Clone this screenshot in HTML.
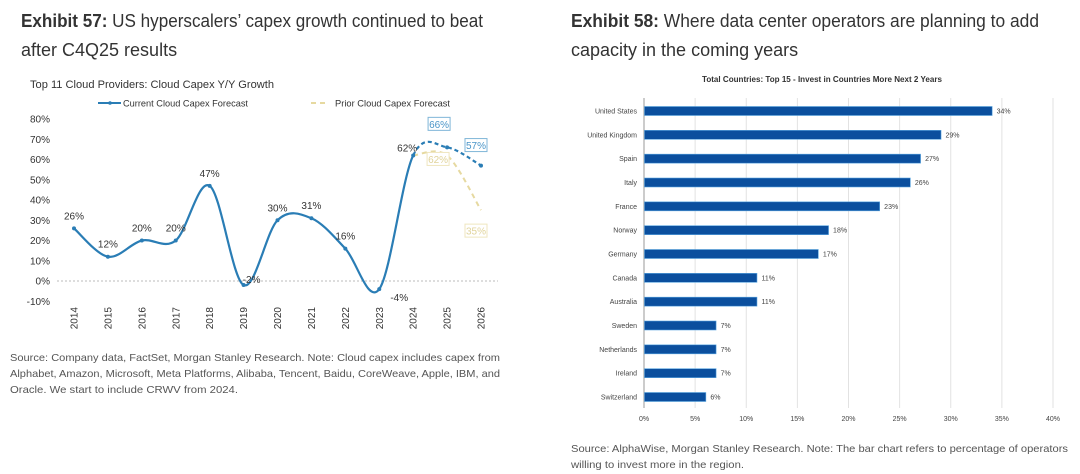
<!DOCTYPE html>
<html><head><meta charset="utf-8"><style>
html,body{margin:0;padding:0;background:#fff;}
svg{display:block;font-family:"Liberation Sans",sans-serif;}
</style></head><body>
<svg id="root" width="1080" height="474" viewBox="0 0 1080 474">
  <g fill="#333" font-size="18">
    <text x="21" y="27" textLength="462" lengthAdjust="spacingAndGlyphs"><tspan font-weight="bold">Exhibit 57:</tspan>  US hyperscalers’ capex growth continued to beat</text>
    <text x="21" y="56">after C4Q25 results</text>
  </g>
  <g fill="#333" font-size="18">
    <text x="571" y="27" textLength="468" lengthAdjust="spacingAndGlyphs"><tspan font-weight="bold">Exhibit 58:</tspan>  Where data center operators are planning to add</text>
    <text x="571" y="56">capacity in the coming years</text>
  </g>

  <g id="line-chart">
    <text x="30" y="88" font-size="11" fill="#333" textLength="244" lengthAdjust="spacingAndGlyphs">Top 11 Cloud Providers: Cloud Capex Y/Y Growth</text>
    <g>
      <line x1="98" y1="103" x2="121" y2="103" stroke="#2a7db5" stroke-width="2"/>
      <circle cx="110" cy="103" r="1.8" fill="#2a7db5"/>
      <text x="123" y="106.5" font-size="9.5" fill="#333" textLength="125" lengthAdjust="spacingAndGlyphs">Current Cloud Capex Forecast</text>
    </g>
    <g>
      <line x1="311" y1="103" x2="328" y2="103" stroke="#e6d9a0" stroke-width="2" stroke-dasharray="5,4"/>
      <text x="335" y="106.5" font-size="9.5" fill="#333" textLength="115" lengthAdjust="spacingAndGlyphs">Prior Cloud Capex Forecast</text>
    </g>
    <g id="lc-yaxis"></g>
    <g id="lc-xaxis"></g>
    <g id="lc-series"></g>
  </g>

  <g fill="#555" font-size="10.5">
    <text x="10" y="361" textLength="490" lengthAdjust="spacingAndGlyphs">Source: Company data, FactSet, Morgan Stanley Research. Note: Cloud capex includes capex from</text>
    <text x="10" y="377" textLength="490" lengthAdjust="spacingAndGlyphs">Alphabet, Amazon, Microsoft, Meta Platforms, Alibaba, Tencent, Baidu, CoreWeave, Apple, IBM, and</text>
    <text x="10" y="393" textLength="228" lengthAdjust="spacingAndGlyphs">Oracle. We start to include CRWV from 2024.</text>
  </g>

  <g id="bar-chart">
    <text x="822" y="82" font-size="8" font-weight="bold" fill="#333" text-anchor="middle" textLength="240" lengthAdjust="spacingAndGlyphs">Total Countries:  Top 15 - Invest in Countries More Next 2 Years</text>
    <g id="bc-grid"></g>
    <g id="bc-bars"></g>
  </g>

  <g fill="#555" font-size="10.5">
    <text x="571" y="452" textLength="497" lengthAdjust="spacingAndGlyphs">Source: AlphaWise, Morgan Stanley Research. Note: The bar chart refers to percentage of operators</text>
    <text x="571" y="468" textLength="173" lengthAdjust="spacingAndGlyphs">willing to invest more in the region.</text>
  </g>
</svg>
<script>
const years = ["2014","2015","2016","2017","2018","2019","2020","2021","2022","2023","2024","2025","2026"];
const currentVals = [26,12,20,20,47,-2,30,31,16,-4,62,66,57];
const priorVals = [null,null,null,null,null,null,null,null,null,null,62,62,35];
const currentLabels = ["26%","12%","20%","20%","47%","-2%","30%","31%","16%","-4%","62%","66%","57%"];
const priorLabels = ["62%","35%"];
const yTicks = [80,70,60,50,40,30,20,10,0,-10];

const countries = ["United States","United Kingdom","Spain","Italy","France","Norway","Germany","Canada","Australia","Sweden","Netherlands","Ireland","Switzerland"];
const shares = [34,29,27,26,23,18,17,11,11,7,7,7,6];
const xTicks = [0,5,10,15,20,25,30,35,40];

const NS = "http://www.w3.org/2000/svg";
function mk(tag, attrs, parent, txt){
  const e = document.createElementNS(NS, tag);
  for (const k in attrs) e.setAttribute(k, attrs[k]);
  if (txt !== undefined) e.textContent = txt;
  parent.appendChild(e);
  return e;
}
// line chart scales
const lx = i => 74 + i * (481 - 74) / (years.length - 1);
const ly = v => 281 - v * 2.025;

const yAx = document.getElementById('lc-yaxis');
yTicks.forEach(t => {
  const e = mk('text', {x: 50, y: ly(t) + 3.5, 'font-size': 10, fill: '#333', 'text-anchor': 'end'}, yAx, t + '%');
  
  
});
const zl = mk('line', {x1: 57, x2: 498, y1: ly(0), y2: ly(0), stroke: '#bbb', 'stroke-width': 1, 'stroke-dasharray': '2,2'}, yAx);



const xAx = document.getElementById('lc-xaxis');
years.forEach((y, i) => {
  const e = mk('text', {x: 0, y: 0, 'font-size': 10, fill: '#333', 'text-anchor': 'end', transform: `translate(${lx(i)+3.5},307) rotate(-90)`}, xAx, y);
  
  
});

function spline(pts){
  let d = `M${pts[0][0]},${pts[0][1]}`;
  for (let i = 0; i < pts.length - 1; i++){
    const p0 = pts[i-1] || pts[i], p1 = pts[i], p2 = pts[i+1], p3 = pts[i+2] || p2;
    const c1 = [p1[0] + (p2[0]-p0[0])/6, p1[1] + (p2[1]-p0[1])/6];
    const c2 = [p2[0] - (p3[0]-p1[0])/6, p2[1] - (p3[1]-p1[1])/6];
    d += ` C${c1[0]},${c1[1]} ${c2[0]},${c2[1]} ${p2[0]},${p2[1]}`;
  }
  return d;
}
const ser = document.getElementById('lc-series');
const cpts = currentVals.map((v,i)=>[lx(i), ly(v)]);
// prior (drawn first)
const ppts = [];
priorVals.forEach((v,i)=>{ if (v !== null) ppts.push([lx(i), ly(v)]); });
const pl = mk('path', {d: spline(ppts), fill: 'none', stroke: '#e6d9a0', 'stroke-width': 2, 'stroke-dasharray': '5,4'}, ser);


// current solid through 2024, dashed after
const histIdx = 10;
const full = spline(cpts);
const solid = mk('path', {d: spline(cpts.slice(0, histIdx + 1).concat([])), fill: 'none', stroke: '#2a7db5', 'stroke-width': 2.2}, ser);


const dashed = mk('path', {d: spline(cpts.slice(histIdx - 1)).replace(/^M[^C]*C[^C]*/, 'M' + cpts[histIdx][0] + ',' + cpts[histIdx][1] + ' C'), fill: 'none', stroke: '#2a7db5', 'stroke-width': 2.2, 'stroke-dasharray': '4,3'}, ser);


// fix dashed path: rebuild properly
(function(){
  const seg = cpts.slice(histIdx - 1);
  let d = `M${seg[1][0]},${seg[1][1]}`;
  for (let i = 1; i < seg.length - 1; i++){
    const p0 = seg[i-1], p1 = seg[i], p2 = seg[i+1], p3 = seg[i+2] || p2;
    d += ` C${p1[0]+(p2[0]-p0[0])/6},${p1[1]+(p2[1]-p0[1])/6} ${p2[0]-(p3[0]-p1[0])/6},${p2[1]-(p3[1]-p1[1])/6} ${p2[0]},${p2[1]}`;
  }
  dashed.setAttribute('d', d);
  // solid: use full spline segments up to histIdx so tangent matches
  let s = `M${cpts[0][0]},${cpts[0][1]}`;
  for (let i = 0; i < histIdx; i++){
    const p0 = cpts[i-1] || cpts[i], p1 = cpts[i], p2 = cpts[i+1], p3 = cpts[i+2] || p2;
    s += ` C${p1[0]+(p2[0]-p0[0])/6},${p1[1]+(p2[1]-p0[1])/6} ${p2[0]-(p3[0]-p1[0])/6},${p2[1]-(p3[1]-p1[1])/6} ${p2[0]},${p2[1]}`;
  }
  solid.setAttribute('d', s);
})();
cpts.forEach((p,i)=>{
  const c = mk('circle', {cx: p[0], cy: p[1], r: 2, fill: '#2a7db5'}, ser);
  
  
  if (i < 11){
    let dy = -9, dx = 0;
    if (currentVals[i] < 0 && i === 9){ dx = 20; dy = 12; }
    if (i === 5){ dx = 8; dy = -2; }
    if (i === 10){ dx = -6; dy = -4; }
    const t = mk('text', {x: p[0] + dx, y: p[1] + dy, 'font-size': 10, fill: '#333', 'text-anchor': 'middle'}, ser, currentLabels[i]);
    
    
  } else {
    const bx = p[0] + (i === 11 ? -8 : -5), by = p[1] + (i === 11 ? -22 : -19);
    const r = mk('rect', {x: bx - 11, y: by - 8, width: 22, height: 13, fill: '#fff', stroke: '#7fb6d8', 'stroke-width': 1}, ser);
    
    
    const t = mk('text', {x: bx, y: by + 2.5, 'font-size': 10, fill: '#4a95c8', 'text-anchor': 'middle'}, ser, currentLabels[i]);
    
    
  }
});
ppts.slice(1).forEach((p, j)=>{
  const bx = p[0] + (j === 0 ? -9 : -5), by = p[1] + (j === 0 ? 5 : 22);
  const r = mk('rect', {x: bx - 11, y: by - 8, width: 22, height: 13, fill: '#fff', stroke: '#efe6bf', 'stroke-width': 1}, ser);
  
  
  const t = mk('text', {x: bx, y: by + 2.5, 'font-size': 10, fill: '#e0d39a', 'text-anchor': 'middle'}, ser, priorLabels[j]);
  
  
});

// bar chart
const bx0 = 644, bxs = (1053 - 644) / 40;
const bxf = v => bx0 + v * bxs;
const byf = i => 111 + i * (397 - 111) / (countries.length - 1);
const grid = document.getElementById('bc-grid');
xTicks.forEach(t => {
  const g = mk('line', {x1: bxf(t), x2: bxf(t), y1: 98, y2: 408, stroke: t === 0 ? '#999' : '#e2e2e2', 'stroke-width': 1}, grid);
  
  
  const l = mk('text', {x: bxf(t), y: 421, 'font-size': 7, fill: '#444', 'text-anchor': 'middle'}, grid, t + '%');
  
  
});
const bars = document.getElementById('bc-bars');
countries.forEach((c, i) => {
  const y = byf(i);
  const n = mk('text', {x: 637, y: y + 2.5, 'font-size': 7, fill: '#444', 'text-anchor': 'end'}, bars, c);
  
  
  const r = mk('rect', {x: bx0 + 0.5, y: y - 4.5, width: bxf(shares[i]) - bx0, height: 9, fill: '#0b4f9e', stroke: '#5aa6e0', 'stroke-width': 0.6}, bars);
  
  
  const v = mk('text', {x: bxf(shares[i]) + 5, y: y + 2.5, 'font-size': 7, fill: '#444'}, bars, shares[i] + '%');
  
  
});
</script>
</body></html>
